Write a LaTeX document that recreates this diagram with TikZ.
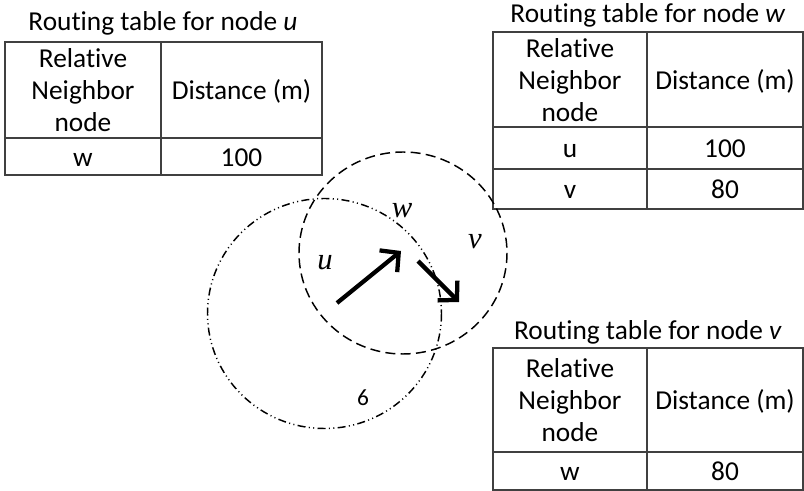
\documentclass[tikz,border=0pt]{standalone}
\usepackage{fontspec}
\setmainfont{Carlito}[RawFeature=-liga]
\newfontfamily\labelfont{Liberation Serif}
\usetikzlibrary{arrows.meta}
\begin{document}
\begin{tikzpicture}[x=0.75pt,y=-0.75pt,
  grid/.style={draw=black!75,line width=1.1pt},
  celltext/.style={font=\fontsize{20.5}{24}\selectfont,align=center,inner sep=0pt},
  rowtext/.style={celltext,text height=14pt,text depth=0pt},
  tabtitle/.style={font=\fontsize{20.5}{24}\selectfont,anchor=base,inner sep=0pt},
  nodelabel/.style={font=\labelfont\itshape\fontsize{23}{26}\selectfont,inner sep=0pt},
  rangeA/.style={line width=1.1pt,dash pattern=on 7.5pt off 4pt},
  rangeB/.style={line width=1.1pt,dash pattern=on 6pt off 2.5pt on 0.8pt off 2.5pt on 0.8pt off 2.5pt},
  hop/.style={line width=3.2pt,-{Straight Barb[length=10pt,width=21pt,line width=3.2pt]}}]
\useasboundingbox (0,0) rectangle (804,491);

% ---- routing table of u ----
\node[tabtitle] (tu) at (163,31) {Routing table for node \textit{u}};
\draw[grid] (5,42) rectangle (322,175) (161,42) -- (161,175) (5,138) -- (322,138);
\node[celltext] (uh1) at (83,90) {Relative\\Neighbor\\node};
\node[rowtext] (uh2) at (241.5,90) {Distance (m)};
\node[rowtext] (ur1) at (83,157) {w};
\node[rowtext] (ud1) at (241.5,157) {100};

% ---- routing table of w ----
\node[tabtitle] (tw) at (648,23) {Routing table for node \textit{w}};
\draw[grid] (493,32) rectangle (803,209) (647,32) -- (647,209)
  (493,127) -- (803,127) (493,169) -- (803,169);
\node[celltext] (wh1) at (570,80) {Relative\\Neighbor\\node};
\node[rowtext] (wh2) at (725,80) {Distance (m)};
\node[rowtext] (wr1) at (570,148) {u};
\node[rowtext] (wd1) at (725,148) {100};
\node[rowtext] (wr2) at (570,189) {v};
\node[rowtext] (wd2) at (725,189) {80};

% ---- routing table of v ----
\node[tabtitle] (tv) at (648,340) {Routing table for node \textit{v}};
\draw[grid] (493,348) rectangle (803,490) (647,348) -- (647,490) (493,452) -- (803,452);
\node[celltext] (vh1) at (570,400) {Relative\\Neighbor\\node};
\node[rowtext] (vh2) at (725,400) {Distance (m)};
\node[rowtext] (vr1) at (570,471) {w};
\node[rowtext] (vd1) at (725,471) {80};

% ---- radio ranges ----
\draw[rangeA] (403,253) ellipse [x radius=104, y radius=101];
\draw[rangeB] (324.5,313.5) ellipse [x radius=117, y radius=115];

% ---- nodes and hops ----
\node[nodelabel] (lu) at (325,263) {u};
\node[nodelabel] (lw) at (402,211) {w};
\node[nodelabel] (lv) at (475,242) {v};
\node[font=\fontsize{17.5}{20}\selectfont,inner sep=0pt] (six) at (363,398) {6};

\coordinate (uStart) at (337,303);
\coordinate (wEnd) at (401,251);
\coordinate (wStart) at (418,261);
\coordinate (vEnd) at (459,302);
\draw[hop] (uStart) -- (wEnd);
\draw[hop] (wStart) -- (vEnd);
\end{tikzpicture}
\end{document}
